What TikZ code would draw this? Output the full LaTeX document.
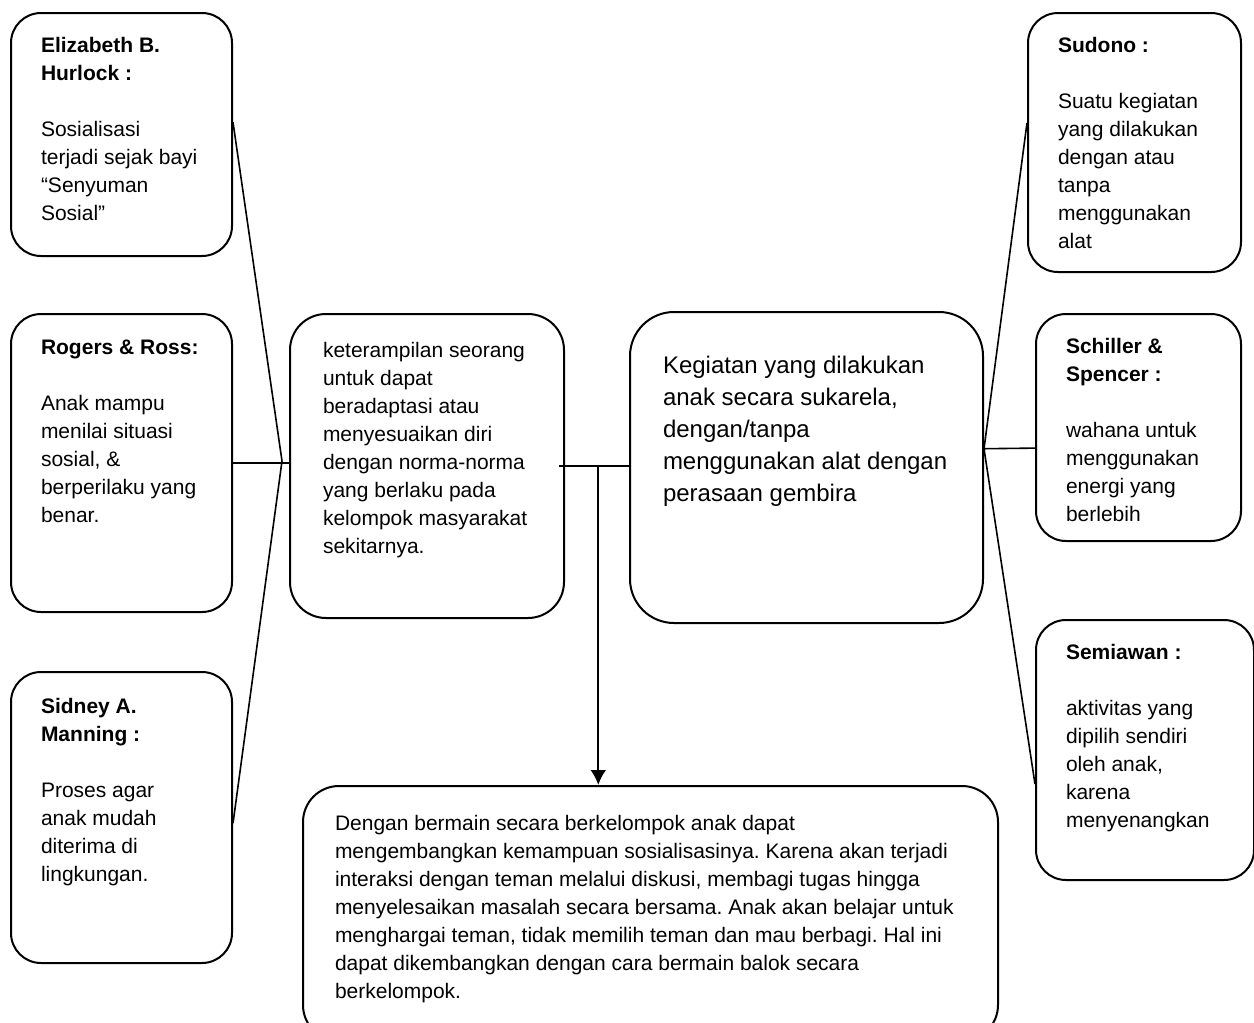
\documentclass[tikz,border=0pt]{standalone}
\usepackage{fontspec}
\setmainfont{Liberation Sans}
\usetikzlibrary{calc,arrows.meta}
\frenchspacing
\newcommand{\cardbody}[3]{\parbox[c][#2][t]{#1}{\raggedright #3}}

\begin{document}
\begin{tikzpicture}[x=0.5pt, y=-0.5pt, >={Latex[length=7.5pt,width=8pt]}]
      \tikzset{
	  card/.style={draw, line width=1pt, rounded corners=15pt, anchor=north west, inner xsep=15pt, inner ysep=12pt, font=\fontsize{10.5}{14}\selectfont},
	  link/.style={line width=0.8pt},
      }
      \useasboundingbox (0,0) rectangle (1254,1023);

      % left column
      \node (hurlock) at (10,12) [card] {\cardbody{80.5pt}{97.5pt}{{\bfseries Elizabeth B.\\Hurlock :}\\[14pt]Sosialisasi\\terjadi sejak bayi\\“Senyuman\\Sosial”}};
      \node (rogers) at (10,313) [card, inner ysep=13pt] {\cardbody{80.5pt}{123pt}{{\bfseries Rogers \& Ross:}\\[14pt]Anak mampu\\menilai situasi\\sosial, \&\\berperilaku yang\\benar.}};
      \node (manning) at (10,671) [card, inner ysep=13pt] {\cardbody{80.5pt}{119.5pt}{{\bfseries Sidney A.\\Manning :}\\[14pt]Proses agar\\anak mudah\\diterima di\\lingkungan.}};

      % middle
      \node (sosial) at (289,313) [card, rounded corners=18pt, inner xsep=16.5pt, inner ysep=14pt] {\cardbody{104pt}{124pt}{keterampilan seorang\\untuk dapat\\beradaptasi atau\\menyesuaikan diri\\dengan norma-norma\\yang berlaku pada\\kelompok masyarakat\\sekitarnya.}};
      \node (kegiatan) at (629,311) [card, rounded corners=22pt, inner xsep=16.5pt, inner ysep=22pt, font=\fontsize{12}{16}\selectfont] {\cardbody{143.5pt}{111.5pt}{Kegiatan yang dilakukan\\anak secara sukarela,\\dengan/tanpa\\menggunakan alat dengan\\perasaan gembira}};
      \node (simpulan) at (302,785) [card, rounded corners=18pt, inner xsep=16pt, inner ysep=14.5pt] {\cardbody{315.5pt}{98.5pt}{Dengan bermain secara berkelompok anak dapat\\mengembangkan kemampuan sosialisasinya. Karena akan terjadi\\interaksi dengan teman melalui diskusi, membagi tugas hingga\\menyelesaikan masalah secara bersama. Anak akan belajar untuk\\menghargai teman, tidak memilih teman dan mau berbagi. Hal ini\\dapat dikembangkan dengan cara bermain balok secara\\berkelompok.}};

      % right column
      \node (sudono) at (1027,12) [card] {\cardbody{76.5pt}{105.5pt}{{\bfseries Sudono :}\\[14pt]Suatu kegiatan\\yang dilakukan\\dengan atau\\tanpa\\menggunakan\\alat}};
      \node (schiller) at (1035,313) [card] {\cardbody{72.5pt}{89.5pt}{{\bfseries Schiller \&\\Spencer :}\\[14pt]wahana untuk\\menggunakan\\energi yang\\berlebih}};
      \node (semiawan) at (1035,619) [card] {\cardbody{79pt}{106pt}{{\bfseries Semiawan :}\\[14pt]aktivitas yang\\dipilih sendiri\\oleh anak,\\karena\\menyenangkan}};

      % connectors left
      \coordinate (jl) at (282,461);
      \draw[link] (rogers.east) -- (sosial.west |- rogers.east);
      \draw[link] ($(hurlock.north east)!0.45!(hurlock.south east)$) -- (jl) -- ($(manning.north east)!0.52!(manning.south east)$);

      % connectors middle
      \draw[link] ([xshift=-3pt]sosial.east) -- (kegiatan.west |- sosial.east);
      \coordinate (jm) at ($(sosial.east)!0.52!(kegiatan.west |- sosial.east)$);
      \draw[link, line width=1.2pt, ->] (jm) -- (jm |- simpulan.north);

      % connectors right
      \coordinate (jr) at ($(kegiatan.north east)!0.44!(kegiatan.south east)$);
      \draw[link] (jr) -- ($(sudono.north west)!0.425!(sudono.south west)$);
      \draw[link] (jr) -- ($(schiller.north west)!0.59!(schiller.south west)$);
      \draw[link] (jr) -- ($(semiawan.north west)!0.63!(semiawan.south west)$);
\end{tikzpicture}
\end{document}
